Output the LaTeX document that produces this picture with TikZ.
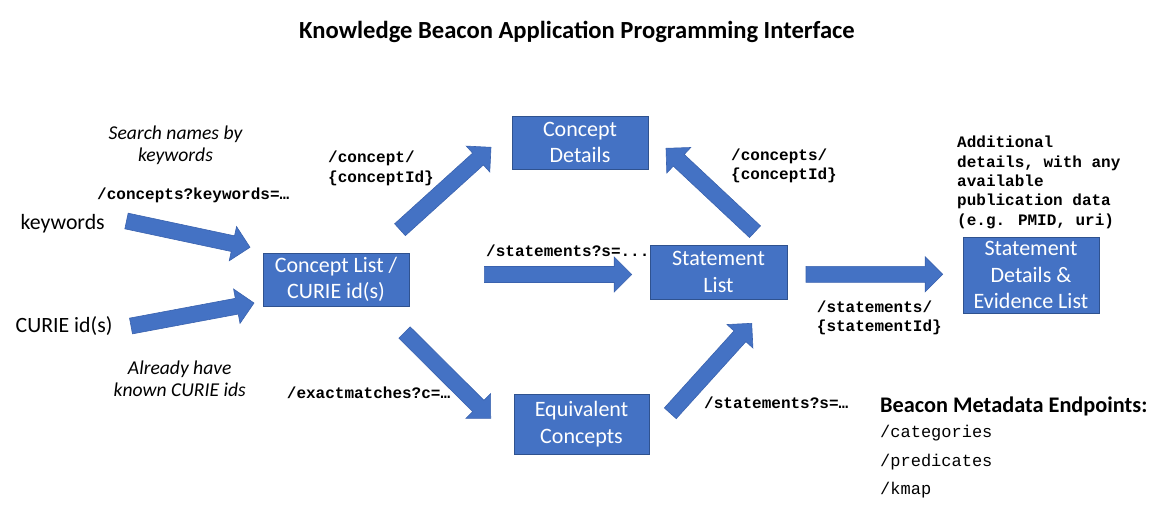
\documentclass[tikz,border=0pt]{standalone}
\usepackage{fontspec}
\setmainfont{Carlito}
\newfontfamily\codefont{Liberation Mono}
\usetikzlibrary{calc}
\definecolor{boxblue}{HTML}{4472C4}
\definecolor{boxedge}{HTML}{2F528F}
\definecolor{arrowedge}{HTML}{3A62AE}
\newcommand{\boxfont}{\fontsize{22}{26.7}\selectfont}
\newcommand{\plainfont}{\fontsize{21.8}{26.7}\selectfont}
\newcommand{\notefont}{\fontsize{19.6}{22.5}\selectfont\itshape}
\newcommand{\cbfont}{\codefont\bfseries\fontsize{16}{19.3}\selectfont}
\newcommand{\crfont}{\codefont\fontsize{17}{20}\selectfont}
\newcommand{\blockarrow}[3]{%
  \coordinate (#3b) at ($(#2)!17.5pt!(#1)$);
  \filldraw[barrow] ($(#1)!8pt!90:(#2)$) -- ($(#3b)!8pt!90:(#2)$) -- ($(#3b)!17.5pt!90:(#2)$) -- (#2) -- ($(#3b)!17.5pt!-90:(#2)$) -- ($(#3b)!8pt!-90:(#2)$) -- ($(#1)!8pt!-90:(#2)$) -- cycle;
}
\tikzset{
  bluebox/.style={draw=boxedge, line width=0.8pt, fill=boxblue, text=white, font=\boxfont, align=center, inner sep=0pt},
  barrow/.style={fill=boxblue, draw=arrowedge, line width=0.6pt, line join=miter},
  codelabel/.style={font=\cbfont, align=left, inner sep=0pt, anchor=west},
  notelabel/.style={font=\notefont, align=center, inner sep=0pt},
  plainlabel/.style={font=\plainfont, inner sep=0pt, anchor=west},
  endpoint/.style={font=\crfont, inner sep=0pt, anchor=west}
}
\begin{document}
\begin{tikzpicture}[x=1pt, y=-1pt]
\useasboundingbox (0,0) rectangle (1154,519);
% title
\node[font=\fontsize{24.6}{28}\selectfont\bfseries, inner sep=0pt] (title) at (577,32) {Knowledge Beacon Application Programming Interface};
% boxes
\node[bluebox, minimum width=136pt, minimum height=53pt] (cdet) at (580,142.5) {Concept\\Details};
\node[bluebox, minimum width=137pt, minimum height=54pt] (slist) at (718.5,272) {Statement\\List};
\node[bluebox, minimum width=135pt, minimum height=60pt] (equiv) at (581.5,424) {Equivalent\\Concepts};
\node[bluebox, minimum width=146pt, minimum height=53pt] (clist) at (336,279.5) {Concept List /\\CURIE id(s)};
\node[bluebox, minimum width=136pt, minimum height=76pt] (sdet) at (1031,275) {Statement\\Details \&\\Evidence List};
% left inputs
\node[plainlabel] (kw) at (20.5,224) {keywords};
\node[plainlabel] (curie) at (15.5,326.5) {CURIE id(s)};
\node[notelabel] (search) at (175.5,145.3) {Search names by\\keywords};
\node[notelabel] (already) at (179.7,379) {Already have\\known CURIE ids};
% code labels
\node[codelabel] (lkw) at (97,195) {/concepts?keywords=…};
\node[codelabel] (lcid) at (328,168.3) {/concept/\\\{conceptId\}};
\node[codelabel] (lcids) at (731,166) {/concepts/\\\{conceptId\}};
\node[codelabel] (lst1) at (486,250.7) {/statements?s=...};
\node[codelabel] (lst2) at (704,402.7) {/statements?s=…};
\node[codelabel] (lexm) at (286.7,392.7) {/exactmatches?c=…};
\node[codelabel] (lsid) at (816.7,317.8) {/statements/\\\{statementId\}};
\node[codelabel] (ladd) at (957,182.3) {Additional\\details, with any\\available\\publication data\\(e.g. PMID, uri)};
% metadata endpoints
\node[font=\fontsize{22.3}{26}\selectfont\bfseries, inner sep=0pt, anchor=west] (meta) at (880,406) {Beacon Metadata Endpoints:};
\node[endpoint] (ecat) at (880,433.3) {/categories};
\node[endpoint] (epred) at (880,461.7) {/predicates};
\node[endpoint] (ekmap) at (880,490) {/kmap};
% arrow end points
\coordinate (a1t) at (126.5,221);   \coordinate (a1h) at (250,247.3);
\coordinate (a2t) at (131,326);     \coordinate (a2h) at (254,303);
\coordinate (a3t) at (400,229.7);   \coordinate (a3h) at (491,147.3);
\coordinate (a4t) at (404.5,332.5); \coordinate (a4h) at (490.7,418.3);
\coordinate (a5t) at (755,231.7);   \coordinate (a5h) at (666,148.3);
\coordinate (a6t) at (670.3,413.3); \coordinate (a6h) at (751.7,323.3);
\coordinate (a7t) at (484.3,274.5); \coordinate (a7h) at (631.7,274.5);
\coordinate (a8t) at (806,274.3);   \coordinate (a8h) at (942.7,274.3);
% block arrows
\blockarrow{a1t}{a1h}{ar1}
\blockarrow{a2t}{a2h}{ar2}
\blockarrow{a3t}{a3h}{ar3}
\blockarrow{a4t}{a4h}{ar4}
\blockarrow{a5t}{a5h}{ar5}
\blockarrow{a6t}{a6h}{ar6}
\blockarrow{a7t}{a7h}{ar7}
\blockarrow{a8t}{a8h}{ar8}
\end{tikzpicture}
\end{document}
